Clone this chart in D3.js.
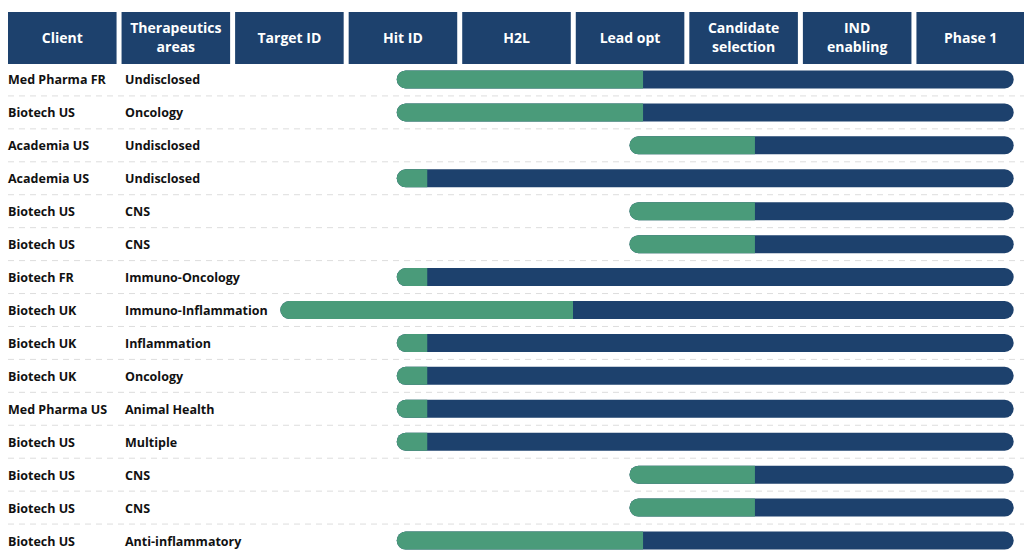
<!DOCTYPE html>
<html><head><meta charset="utf-8">
<script src="https://cdn.jsdelivr.net/npm/d3@7"></script>
<style>body{margin:0;background:#fff}text{font-family:"Open Sans",sans-serif;font-weight:700}</style>
</head><body><svg id="c" width="1024" height="560"></svg>
<script>
// column headers
var headers=[["Client"],["Therapeutics","areas"],["Target ID"],["Hit ID"],["H2L"],["Lead opt"],["Candidate","selection"],["IND","enabling"],["Phase 1"]];
var clients=["Med Pharma FR","Biotech US","Academia US","Academia US","Biotech US","Biotech US","Biotech FR","Biotech UK","Biotech UK","Biotech UK","Med Pharma US","Biotech US","Biotech US","Biotech US","Biotech US"];
var areas=["Undisclosed","Oncology","Undisclosed","Undisclosed","CNS","CNS","Immuno-Oncology","Immuno-Inflammation","Inflammation","Oncology","Animal Health","Multiple","CNS","CNS","Anti-inflammatory"];
// in stage units from Target ID start
var barStart=[1.44,1.44,3.5,1.44,3.5,3.5,1.44,0.41,1.44,1.44,1.44,1.44,3.5,3.5,1.44];
var greenEnd=[3.62,3.62,4.61,1.71,4.61,4.61,1.71,3.0,1.71,1.71,1.71,1.71,4.61,4.61,3.62];
var barEnd=[6.9,6.9,6.9,6.9,6.9,6.9,6.9,6.9,6.9,6.9,6.9,6.9,6.9,6.9,6.9];

var navy="#1d416d",green="#4a9b7a";
var svg=d3.select("#c");
var col=d3.scaleBand().domain(d3.range(headers.length)).range([8,1025]).paddingInner(0.044);
var x=d3.scaleLinear().domain([0,7]).range([234,1025]);
var y=d3.scaleBand().domain(d3.range(clients.length)).range([63,557]);

var h=svg.selectAll("g.h").data(headers).join("g").attr("class","h");
h.append("rect").attr("x",(d,i)=>col(i)).attr("y",12).attr("width",col.bandwidth()).attr("height",52).attr("fill",navy);
h.append("text").attr("x",(d,i)=>col(i)+col.bandwidth()/2).attr("text-anchor","middle").attr("fill","#fff").attr("font-size",14)
 .selectAll("tspan").data(d=>d.map((t,j)=>({t:t,y:d.length==1?43:j==0?33:52}))).join("tspan")
 .attr("x",function(){return this.parentNode.getAttribute("x")}).attr("y",d=>d.y).text(d=>d.t);

var r=svg.selectAll("g.r").data(clients).join("g").attr("class","r").attr("transform",(d,i)=>"translate(0,"+(y(i)+y.bandwidth()/2)+")");
r.filter((d,i)=>i<clients.length-1).append("line").attr("x1",8).attr("x2",1024).attr("y1",y.bandwidth()/2).attr("y2",y.bandwidth()/2)
 .attr("stroke","#ddd").attr("stroke-dasharray","6,5");
r.append("text").attr("x",8).attr("y",5).attr("font-size",12.5).attr("fill","#111").text(d=>d);
r.append("text").attr("x",125).attr("y",5).attr("font-size",12.5).attr("fill","#111").text((d,i)=>areas[i]);
r.append("rect").attr("x",(d,i)=>x(barStart[i])).attr("y",-9).attr("height",18).attr("rx",9)
 .attr("width",(d,i)=>x(barEnd[i])-x(barStart[i])).attr("fill",navy);
r.append("path").attr("fill",green).attr("d",(d,i)=>{var a=x(barStart[i]),b=x(greenEnd[i]);
 return "M"+b+",-9H"+(a+9)+"A9,9 0 0 0 "+(a+9)+",9H"+b+"Z";});
</script></body></html>
